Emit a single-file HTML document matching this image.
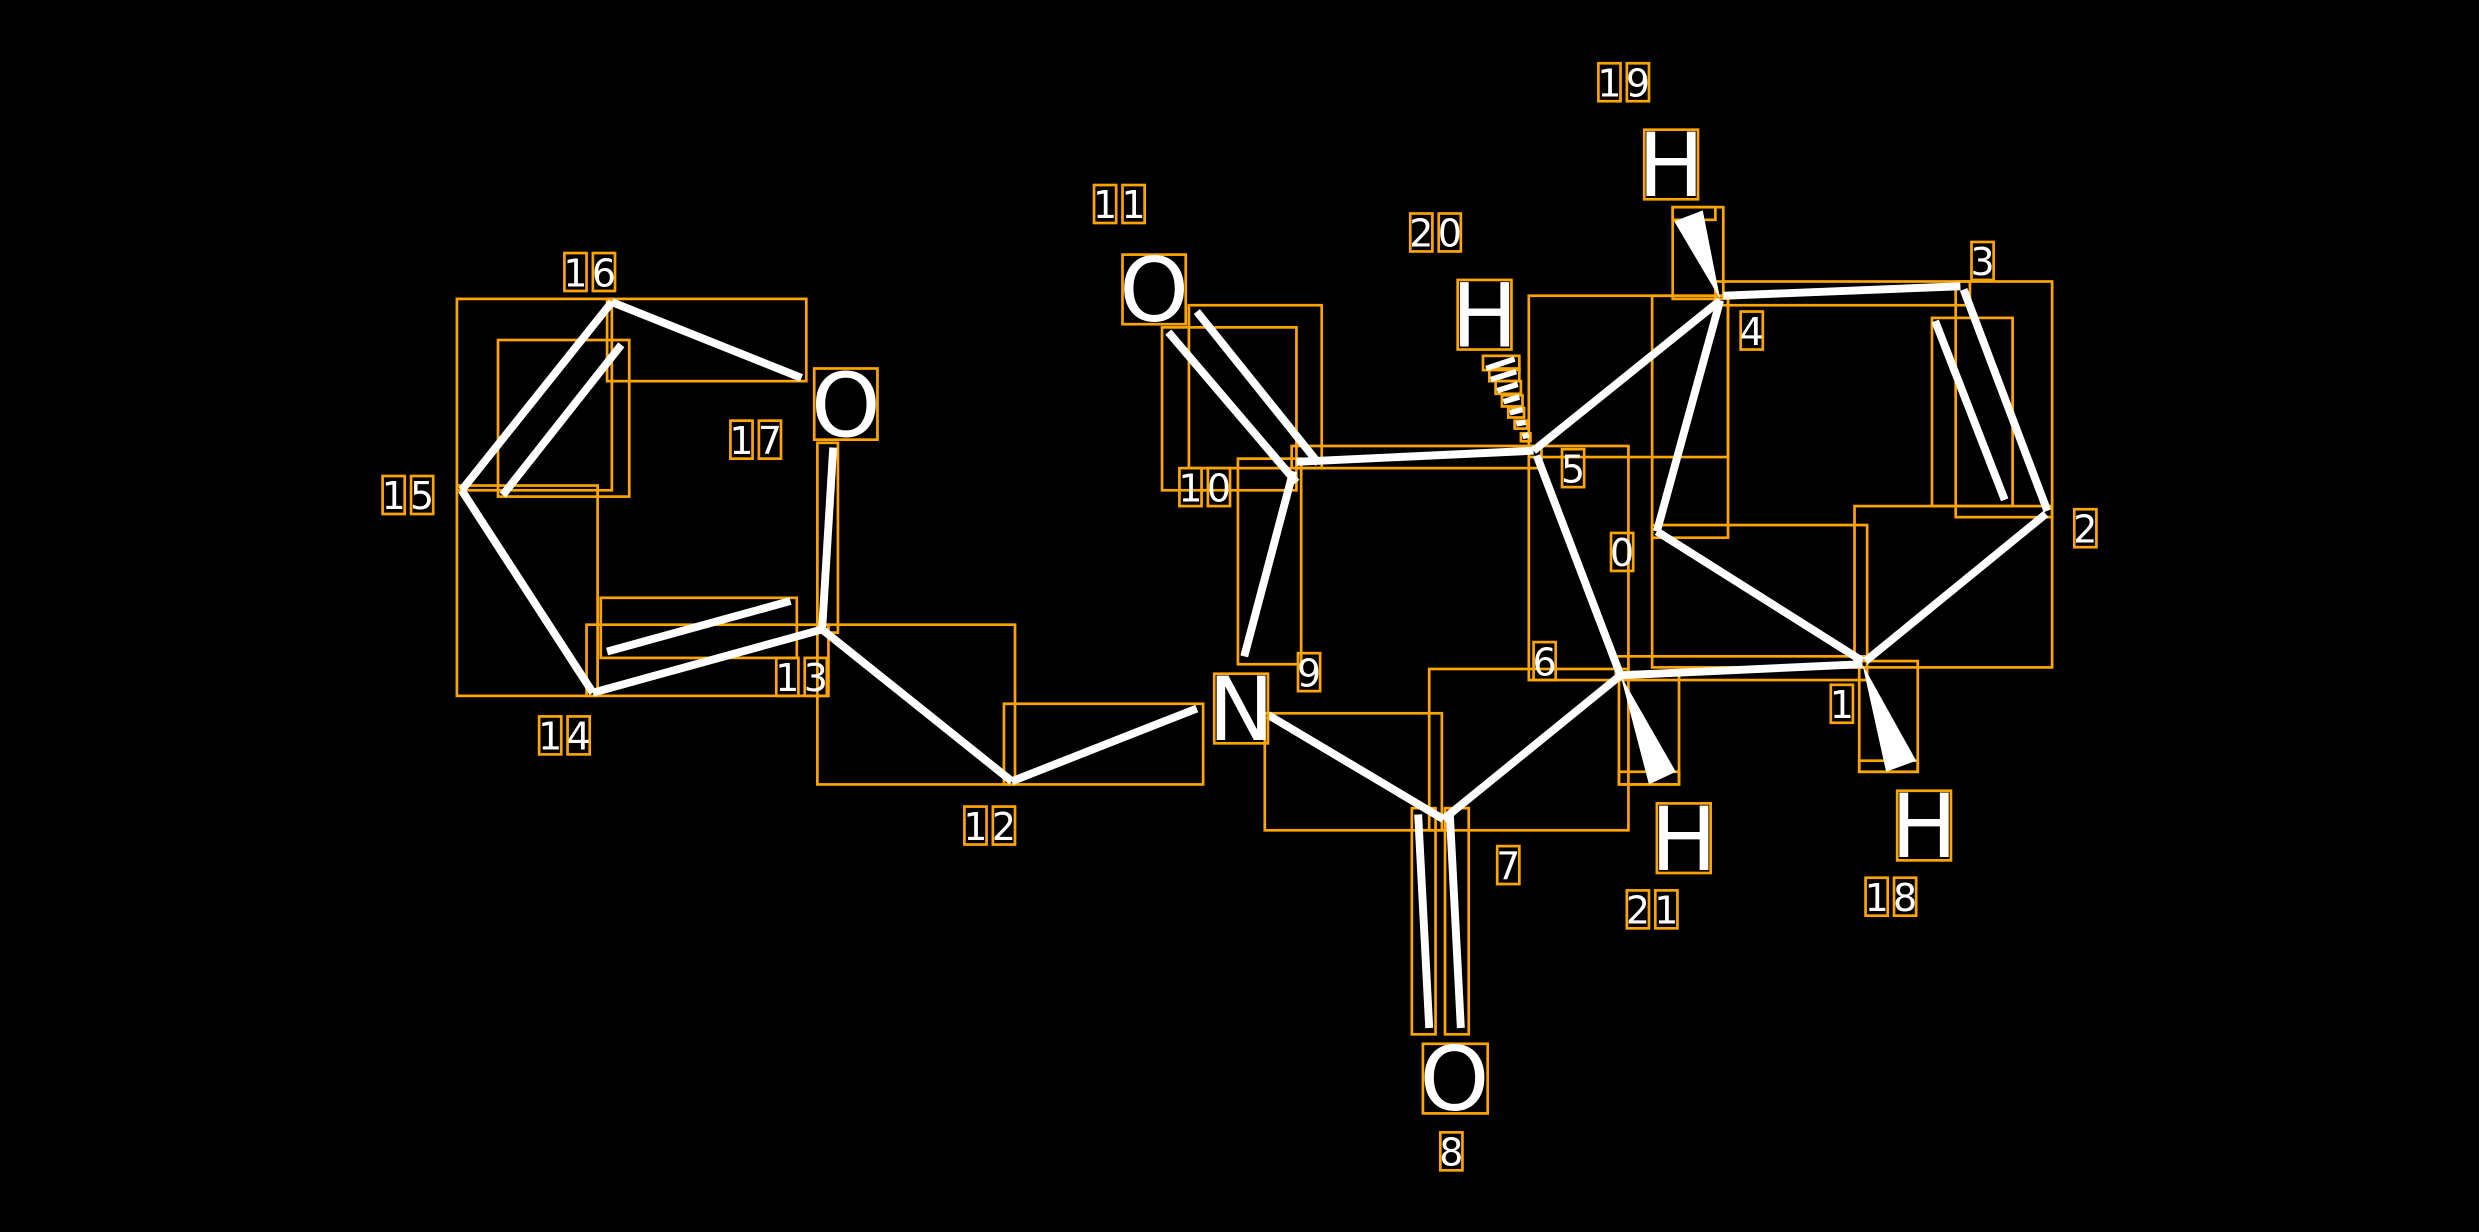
<!DOCTYPE html>
<html><head><meta charset="utf-8"><style>
html,body{margin:0;padding:0;background:#000;width:2479px;height:1232px;overflow:hidden}
svg{display:block}
.b{stroke:#fff;stroke-width:5;fill:none;stroke-linecap:butt}
.o{stroke:#FFA500;stroke-width:1.7;fill:none}
.d{font-family:"DejaVu Sans","Liberation Sans",sans-serif;font-size:24px;fill:#fff;text-anchor:middle}
.L{font-family:"DejaVu Sans","Liberation Sans",sans-serif;font-size:56px;fill:#fff;text-anchor:middle}
</style></head><body>
<svg width="2479" height="1232" viewBox="0 0 1568 779" preserveAspectRatio="none" xmlns="http://www.w3.org/2000/svg">
<rect width="1568" height="779" fill="#000"/>
<g class="o">
<rect x="384" y="189" width="126" height="52"/>
<rect x="315" y="215" width="83" height="99"/>
<rect x="289" y="189" width="98" height="121"/>
<rect x="289" y="307" width="89" height="133"/>
<rect x="371" y="395" width="153" height="45"/>
<rect x="380" y="378" width="124" height="38"/>
<rect x="517" y="280" width="13" height="120"/>
<rect x="517" y="395" width="125" height="101"/>
<rect x="635" y="445" width="126" height="51"/>
<rect x="800" y="451" width="112" height="74"/>
<rect x="904" y="423" width="126" height="102"/>
<rect x="893" y="511" width="15" height="143"/>
<rect x="914" y="511" width="15" height="143"/>
<rect x="783" y="290" width="40" height="130"/>
<rect x="735" y="207" width="85" height="103"/>
<rect x="752" y="193" width="84" height="103"/>
<rect x="817" y="282" width="158" height="14"/>
<rect x="967" y="187" width="126" height="102"/>
<rect x="967" y="282" width="63" height="148"/>
<rect x="1045" y="187" width="48" height="153"/>
<rect x="1045" y="332" width="136" height="90"/>
<rect x="1022" y="415" width="159" height="15"/>
<rect x="1173" y="320" width="125" height="102"/>
<rect x="1237" y="178" width="61" height="149"/>
<rect x="1222" y="201" width="51" height="119"/>
<rect x="1085" y="178" width="161" height="15"/>
<rect x="1058" y="131" width="32" height="58"/>
<rect x="1058" y="131" width="27" height="8"/>
<rect x="1024" y="425" width="38" height="71"/>
<rect x="1024" y="488" width="38" height="8"/>
<rect x="1176" y="418" width="37" height="70"/>
<rect x="1176" y="481" width="37" height="7"/>
<rect x="938" y="225" width="23" height="9"/>
<rect x="942" y="233" width="19" height="8"/>
<rect x="946" y="241" width="16" height="8"/>
<rect x="950" y="250" width="13" height="7"/>
<rect x="954" y="258" width="10" height="6"/>
<rect x="958" y="266" width="8" height="5"/>
<rect x="962" y="274" width="6" height="5"/>
</g>
<g class="b">
<line x1="1090" y1="187" x2="1240" y2="181"/>
<line x1="1242" y1="183" x2="1295" y2="323"/>
<line x1="1224" y1="203" x2="1268" y2="316"/>
<line x1="1294" y1="325" x2="1180" y2="418"/>
<line x1="1178" y1="418" x2="1048" y2="336"/>
<line x1="1048" y1="336" x2="1088" y2="190"/>
<line x1="1088" y1="190" x2="970" y2="285"/>
<line x1="970" y1="285" x2="820" y2="292"/>
<line x1="820" y1="305" x2="739" y2="210"/>
<line x1="834" y1="293" x2="757" y2="197"/>
<line x1="818" y1="298" x2="787" y2="415"/>
<line x1="972" y1="288" x2="1025" y2="427"/>
<line x1="1025" y1="427" x2="1178" y2="420"/>
<line x1="1025" y1="427" x2="913" y2="518"/>
<line x1="913" y1="518" x2="802" y2="452"/>
<line x1="897" y1="515" x2="904" y2="650"/>
<line x1="917" y1="514" x2="924" y2="650"/>
<line x1="757" y1="448" x2="640" y2="494"/>
<line x1="640" y1="494" x2="520" y2="398"/>
<line x1="520" y1="398" x2="527" y2="283"/>
<line x1="520" y1="398" x2="375" y2="438"/>
<line x1="384" y1="412" x2="500" y2="380"/>
<line x1="375" y1="438" x2="292" y2="310"/>
<line x1="292" y1="310" x2="387" y2="191"/>
<line x1="318" y1="313" x2="393" y2="218"/>
<line x1="387" y1="191" x2="507" y2="239"/>
</g>
<g stroke="#fff" stroke-width="3.5">
<line x1="940" y1="233" x2="958" y2="227"/>
<line x1="943" y1="240" x2="959" y2="235"/>
<line x1="947" y1="247" x2="960" y2="243"/>
<line x1="951" y1="254" x2="961" y2="251"/>
<line x1="955" y1="261" x2="963" y2="259"/>
<line x1="959" y1="268" x2="965" y2="267"/>
<line x1="963" y1="276" x2="967" y2="275"/>
</g>
<g fill="#fff">
<polygon points="1088,189 1059,140 1077,133"/>
<polygon points="1025,427 1043,496 1060,488"/>
<polygon points="1178,420 1193,488 1212,481"/>
</g>
<g class="o">
<rect x="1040" y="82" width="34" height="44"/>
<rect x="710" y="161" width="40" height="44"/>
<rect x="922" y="177" width="34" height="44"/>
<rect x="515" y="233" width="40" height="45"/>
<rect x="768" y="426" width="34" height="44"/>
<rect x="900" y="660" width="41" height="44"/>
<rect x="1048" y="508" width="34" height="44"/>
<rect x="1200" y="500" width="34" height="44"/>
</g>
<text class="L" x="1057" y="124">H</text>
<text class="L" x="730" y="203">O</text>
<text class="L" x="939" y="219">H</text>
<text class="L" x="535" y="276">O</text>
<text class="L" x="785" y="468">N</text>
<text class="L" x="920" y="702">O</text>
<text class="L" x="1065" y="550">H</text>
<text class="L" x="1217" y="542">H</text>
<g class="o">
<rect x="1019" y="337" width="14" height="24"/>
<rect x="1158" y="433" width="14" height="24"/>
<rect x="1312" y="322" width="14" height="24"/>
<rect x="1247" y="153" width="14" height="24"/>
<rect x="1101" y="197" width="14" height="24"/>
<rect x="988" y="284" width="14" height="24"/>
<rect x="970" y="406" width="14" height="24"/>
<rect x="947" y="535" width="14" height="24"/>
<rect x="911" y="716" width="14" height="24"/>
<rect x="821" y="413" width="14" height="24"/>
<rect x="746" y="296" width="14" height="24"/><rect x="764" y="296" width="14" height="24"/>
<rect x="692" y="117" width="14" height="24"/><rect x="710" y="117" width="14" height="24"/>
<rect x="610" y="510" width="14" height="24"/><rect x="628" y="510" width="14" height="24"/>
<rect x="491" y="416" width="14" height="24"/><rect x="509" y="416" width="14" height="24"/>
<rect x="341" y="453" width="14" height="24"/><rect x="359" y="453" width="14" height="24"/>
<rect x="242" y="301" width="14" height="24"/><rect x="260" y="301" width="14" height="24"/>
<rect x="357" y="160" width="14" height="24"/><rect x="375" y="160" width="14" height="24"/>
<rect x="462" y="266" width="14" height="24"/><rect x="480" y="266" width="14" height="24"/>
<rect x="1180" y="555" width="14" height="24"/><rect x="1198" y="555" width="14" height="24"/>
<rect x="1011" y="40" width="14" height="24"/><rect x="1029" y="40" width="14" height="24"/>
<rect x="892" y="135" width="14" height="24"/><rect x="910" y="135" width="14" height="24"/>
<rect x="1029" y="563" width="14" height="24"/><rect x="1047" y="563" width="14" height="24"/>
</g>
<g class="d">
<text x="1026" y="358">0</text>
<text x="1165" y="454">1</text>
<text x="1319" y="343">2</text>
<text x="1254" y="174">3</text>
<text x="1108" y="218">4</text>
<text x="995" y="305">5</text>
<text x="977" y="427">6</text>
<text x="954" y="556">7</text>
<text x="918" y="737">8</text>
<text x="828" y="434">9</text>
<text x="753" y="317">1</text><text x="771" y="317">0</text>
<text x="699" y="138">1</text><text x="717" y="138">1</text>
<text x="617" y="531">1</text><text x="635" y="531">2</text>
<text x="498" y="437">1</text><text x="516" y="437">3</text>
<text x="348" y="474">1</text><text x="366" y="474">4</text>
<text x="249" y="322">1</text><text x="267" y="322">5</text>
<text x="364" y="181">1</text><text x="382" y="181">6</text>
<text x="469" y="287">1</text><text x="487" y="287">7</text>
<text x="1187" y="576">1</text><text x="1205" y="576">8</text>
<text x="1018" y="61">1</text><text x="1036" y="61">9</text>
<text x="899" y="156">2</text><text x="917" y="156">0</text>
<text x="1036" y="584">2</text><text x="1054" y="584">1</text>
</g>
</svg>
</body></html>
